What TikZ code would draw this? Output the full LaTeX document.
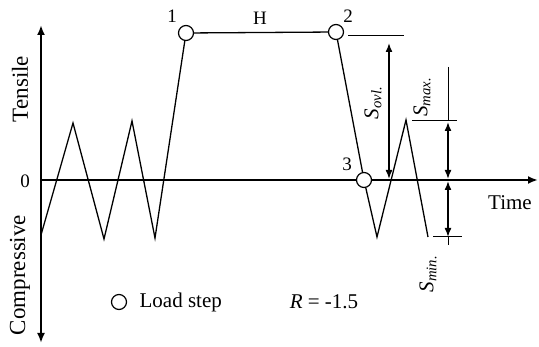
\documentclass[tikz,border=0pt]{standalone}
\usepackage{fontspec}
\setmainfont{Liberation Serif}
\usetikzlibrary{arrows.meta}
\newcommand{\Sub}[1]{\textit{S}\textsubscript{\textit{#1}}}
\begin{document}
\begin{tikzpicture}[x=1pt,y=-1pt,font=\fontsize{21}{25}\selectfont,
  loadstep/.style={circle,draw,line width=1.2pt,fill=white,inner sep=0pt,minimum size=15pt},
  axis/.style={line width=2pt},
  axislabel/.style={rotate=90,font=\fontsize{23}{27}\selectfont},
  num/.style={font=\fontsize{19}{23}\selectfont},
  dim/.style={line width=1.6pt,{Latex[length=9pt,width=7pt]}-{Latex[length=9pt,width=7pt]}}]
\useasboundingbox (0,0) rectangle (539,347);
% axes
\draw[axis,{Latex[length=10pt,width=8pt]}-{Latex[length=10pt,width=8pt]}] (41,343) -- (41,25);
\draw[axis,-{Latex[length=10pt,width=8pt]}] (41,180) -- (538,180);
\node[num] at (25,181) {0};
\node[axislabel] at (20,89) {Tensile};
\node[axislabel] at (20,275) {Compressive};
\node at (510,203) {Time};
% load steps
\node[loadstep] (P1) at (186,33) {};
\node[loadstep] (P2) at (336,32) {};
\node[loadstep] (P3) at (364,180) {};
\node[num] at (172,16) {1};
\node[num] at (260,18) {H};
\node[num] at (348,16) {2};
\node[num] at (347,164) {3};
% load history
\coordinate (A0) at (41,235);
\coordinate (A1) at (73,123);
\coordinate (A2) at (104,239);
\coordinate (A3) at (132,121);
\coordinate (A4) at (155,238);
\coordinate (B1) at (377,237);
\coordinate (B2) at (406,120);
\coordinate (B3) at (428,237);
\draw[line width=1.3pt] (A0) -- (A1) -- (A2) -- (A3) -- (A4) -- (P1) -- (P2) -- (P3) -- (B1) -- (B2) -- (B3);
% overload
\draw[line width=1pt] (348,36) -- (404,36);
\draw[dim] (389,43) -- (389,179);
\node[rotate=90] at (373,103) {\Sub{ovl.}};
% max
\draw[line width=1pt] (412,121) -- (457,121);
\draw[line width=1pt] (448,67) -- (448,121);
\draw[dim] (448,122) -- (448,179);
\node[rotate=90] at (422,97) {\Sub{max.}};
% min
\draw[dim] (448,181) -- (448,237);
\draw[line width=1pt] (433,237) -- (462,237);
\draw[line width=1pt] (448,237) -- (448,245);
\node[rotate=90] at (428,274) {\Sub{min.}};
% legend
\node[loadstep] (L) at (119,302) {};
\node[right=9pt] at (L.east) {Load step};
\node at (324,302) {\textit{R} = -1.5};
\end{tikzpicture}
\end{document}
